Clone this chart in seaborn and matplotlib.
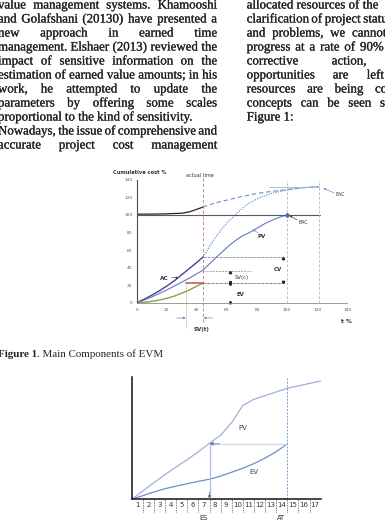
import matplotlib
matplotlib.use("Agg")
import matplotlib.pyplot as plt
import matplotlib.patheffects as pe
import seaborn as sns

# ---------------- data: figure 1 (top chart) ----------------
t_ac = [0, 5, 10, 15, 20, 25, 30, 35, 40, 44]
ac = [0, 4, 8.5, 13.5, 19, 25, 32, 39, 46, 52]
t_pv = [0, 5, 10, 15, 20, 25, 30, 35, 40, 44, 50, 55, 60, 65, 70, 75, 80, 85, 90, 95, 100]
pv = [0, 3, 6.5, 10.5, 14.5, 19, 23.5, 28, 33, 37, 47, 55, 63, 70, 76, 80, 85, 90, 94, 97.5, 100]
t_ev = [0, 5, 10, 15, 20, 25, 30, 35, 40, 44]
ev = [0, 0.5, 1.5, 3, 5, 7.5, 11, 14.5, 19, 22]
t_ac_proj = [44, 48, 52, 56, 60, 66, 74, 82, 90, 100, 110, 121]
ac_proj = [52, 63, 73.5, 83, 91, 101, 113, 120, 125, 128.5, 131, 132.5]
t_eac_base = [0, 10, 20, 30, 35, 40, 44]
eac_base = [101, 101, 101.3, 102, 103.5, 106.5, 109]
t_eac_proj = [44, 50, 55, 60, 70, 80, 90, 100, 110, 121]
eac_proj = [109, 112.5, 115, 117, 121, 124.5, 127, 129, 131, 132.5]
bac_level = 100
eac_level = 131.5
actual_time = 44
es_time_top = 33
ev_now, pv_now, ac_now = 22, 36.5, 52
top_ticks = [0, 20, 40, 60, 80, 100, 120, 140]

# ---------------- data: second chart (bottom) ----------------
periods = [str(i) for i in range(1, 18)]
t_b_pv = list(range(0, 18))
b_pv = [0, 0.068, 0.136, 0.203, 0.265, 0.326, 0.39, 0.46, 0.525, 0.63, 0.77,
        0.82, 0.85, 0.88, 0.91, 0.93, 0.95, 0.97]
t_b_ev = list(range(0, 15))
b_ev = [0, 0.03, 0.06, 0.087, 0.108, 0.128, 0.147, 0.165, 0.19, 0.222, 0.255,
        0.293, 0.338, 0.39, 0.455]
es_t, at_t = 7, 14

# ---------------- page text ----------------
left_lines = [
    ("value management systems. Khamooshi", True),
    ("and Golafshani (20130) have presented a", True),
    ("new approach in earned time", True),
    ("management. Elshaer (2013) reviewed the", True),
    ("impact of sensitive information on the", True),
    ("estimation of earned value amounts; in his", True),
    ("work, he attempted to update the", True),
    ("parameters by offering some scales", True),
    ("proportional to the kind of sensitivity.", False),
    ("Nowadays, the issue of comprehensive and", True),
    ("accurate project cost management", True),
]
# words of the right column with the left edge of the first and last visible word
right_lines = [
    ("allocated resources of the", 246.7, 362.7),
    ("clarification of project status", 246.7, 363.3),
    ("and problems, we cannot", 246.7, 352.0),
    ("progress at a rate of 90%", 246.7, 360.0),
    ("corrective action,", 246.7, 331.7),
    ("opportunities are left", 246.7, 366.7),
    ("resources are being consumed", 246.7, 375.0),
    ("concepts can be seen schematically", 246.7, 380.0),
    ("Figure 1:", 246.7, None),
]

W, H = 385, 524
sns.set_style("white")
plt.rcParams["font.family"] = ["DejaVu Sans"]

fig = plt.figure(figsize=(W / 100, H / 100), dpi=100)
fig.patch.set_facecolor("white")


def fx(x):
    return x / W


def fy(y):
    return 1 - y / H


TXT = "#262223"
BODY_FONT = ["Liberation Serif", "DejaVu Serif"]
BODY_SIZE = 9.3
INK = [pe.Stroke(linewidth=0.18, foreground=TXT), pe.Normal()]
renderer = fig.canvas.get_renderer()


def measure(s, size, weight="normal"):
    t = fig.text(0, 0, s, fontsize=size, family=BODY_FONT, weight=weight)
    w = t.get_window_extent(renderer).width
    t.remove()
    return w


def place_words(words, yb, x0, x_last=None, x_right=None, size=BODY_SIZE):
    min_gap = 0.13 * size * 100 / 72
    widths = [measure(w, size) for w in words]
    n = len(words)
    if n > 1 and x_right is not None:
        need = sum(widths) + min_gap * (n - 1)
        if need > x_right - x0:
            size = size * (x_right - x0) / need
            widths = [measure(w, size) for w in words]
    elif n > 1 and x_last is not None:
        need = sum(widths[:-1]) + min_gap * (n - 1)
        if need > x_last - x0:
            size = size * (x_last - x0) / need
            widths = [measure(w, size) for w in words]
    space_w = measure("a a", size) - measure("aa", size)
    if n > 1 and x_right is not None:
        gap = (x_right - x0 - sum(widths)) / (n - 1)
    elif n > 1 and x_last is not None:
        gap = (x_last - x0 - sum(widths[:-1])) / (n - 1)
    else:
        gap = space_w
    x = x0
    for w, wd in zip(words, widths):
        fig.text(fx(x), fy(yb), w, fontsize=size, family=BODY_FONT, color=TXT,
                 va="baseline", ha="left", path_effects=INK)
        x += wd + gap


base0, pitch = 8.5, 14.0
for i, (line, just) in enumerate(left_lines):
    place_words(line.split(), base0 + i * pitch, -2.0, x_right=217.0 if just else None)

for i, (line, x0, xl) in enumerate(right_lines):
    place_words(line.split(), base0 + i * pitch, x0, x_last=xl)

# caption
cap10 = measure("Figure 1", 10, "bold") + measure(". Main Components of EVM", 10)
cap_size = 10 * 165.0 / cap10
cap_b = fig.text(fx(-2), fy(356.7), "Figure 1", fontsize=cap_size, family=BODY_FONT,
                 weight="bold", color=TXT, va="baseline")
wb = cap_b.get_window_extent(renderer).width
fig.text(fx(-2 + wb), fy(356.7), ". Main Components of EVM", fontsize=cap_size,
         family=BODY_FONT, color=TXT, va="baseline")

# ================= top chart =================
ax1 = fig.add_axes([fx(136.7), fy(302.7), (347.3 - 136.7) / W, (302.7 - 179.9) / H])
ax1.patch.set_alpha(0)
BLUE = "#5b7bc4"
sns.lineplot(x=t_ac, y=ac, ax=ax1, color="#4e3d8c", lw=1.0)
sns.lineplot(x=t_pv, y=pv, ax=ax1, color=BLUE, lw=0.8)
sns.lineplot(x=t_ev, y=ev, ax=ax1, color="#8fa23c", lw=1.0)
sns.lineplot(x=t_ac_proj, y=ac_proj, ax=ax1, color=BLUE, lw=0.8, linestyle=(0, (1, 1.2)))
sns.lineplot(x=t_eac_base, y=eac_base, ax=ax1, color="#262626", lw=0.9)
sns.lineplot(x=t_eac_proj, y=eac_proj, ax=ax1, color="#6d8fcc", lw=0.8, linestyle=(0, (4, 2.5)))

ax1.plot([0, 122], [bac_level, bac_level], color="#595959", lw=0.8)
ax1.plot([88, t_eac_proj[-1]], [eac_level, eac_level], color="#9db2d9", lw=0.6)
ax1.plot([100, 100], [0, 140], color="#aaaaaa", lw=0.5, ls=(0, (4, 2.5)))
ax1.plot([121, 121], [0, 140], color="#aaaaaa", lw=0.5, ls=(0, (4, 2.5)))
ax1.plot([actual_time, actual_time], [-22, 142], color="#c77572", lw=0.6,
         ls=(0, (4, 2.5)), clip_on=False)
ax1.plot([es_time_top, es_time_top], [-29, ev_now], color="#9a9a9a", lw=0.5,
         ls=(0, (1.5, 1.2)), clip_on=False)
ax1.plot([es_time_top, actual_time], [ev_now, ev_now], color="#c0504d", lw=1.1)
ax1.plot([actual_time, 97.5], [ac_now, ac_now], color="#666666", lw=0.5, ls=(0, (3, 1, 1, 1)))
ax1.plot([actual_time, 76], [pv_now, pv_now], color="#8c8c8c", lw=0.5, ls=(0, (3, 1.5)))
ax1.plot([actual_time, 98.5], [ev_now, ev_now], color="#444444", lw=0.5, ls=(0, (3, 1, 1, 1)))
ax1.plot([100], [100], marker="D", ms=2.0, color="#4a6bb8")

mk = dict(ms=1.7, color="#222222", ls="none", clip_on=False)
ax1.plot([97], [ac_now - 1.3], marker="^", **mk)
ax1.plot([97], [ev_now + 1.3], marker="v", **mk)
ax1.plot([62], [pv_now - 1.8], marker="^", **mk)
ax1.plot([62], [ev_now + 1.5], marker="x", **mk)
ax1.plot([62], [ev_now - 1.2], marker="v", **mk)
ax1.plot([62], [1.2], marker="^", **mk)

ax1.set_xlim(0, 140)
ax1.set_ylim(0, 140)
ax1.set_xticks(top_ticks)
ax1.set_yticks(top_ticks)
ax1.tick_params(labelsize=3.2, colors="#595959", length=1.5, width=0.4, pad=1.5)
ax1.tick_params(axis="x", direction="inout", length=2.5, pad=2.5)
for s in ["top", "right"]:
    ax1.spines[s].set_visible(False)
ax1.spines["left"].set_color("#4d4d4d")
ax1.spines["left"].set_linewidth(0.8)
ax1.spines["bottom"].set_color("#8c8c8c")
ax1.spines["bottom"].set_linewidth(0.6)

lab = dict(color="#333333", ha="center", va="center", clip_on=False)
ax1.text(-15.7, 149, "Cumulative cost %", fontsize=3.7, weight="bold", ha="left",
         va="center", color="#333333", clip_on=False)
ax1.text(41.8, 145, "actual time", fontsize=3.5, **lab)
ax1.text(139.5, -22, "t %", fontsize=4.2, weight="bold", **lab)
ax1.text(18.2, 28, "AC", fontsize=4.2, weight="bold", **lab)
ax1.text(83.3, 75, "PV", fontsize=4.0, weight="bold", **lab)
ax1.text(110.5, 91, "BAC", fontsize=3.3, **lab)
ax1.text(135.5, 122.8, "EAC", fontsize=3.3, **lab)
ax1.text(94, 38, "CV", fontsize=4.0, weight="bold", **lab)
ax1.text(70, 28.2, "SV(c)", fontsize=3.8, **lab)
ax1.text(69, 9.6, "EV", fontsize=3.9, weight="bold", **lab)
ax1.text(43.1, -30, "SV(t)", fontsize=4.0, weight="bold", **lab)

arr = dict(arrowstyle="-|>", lw=0.45, mutation_scale=3, shrinkA=0, shrinkB=0)
ax1.annotate("", xy=(27.7, 28.5), xytext=(23.3, 28.5), arrowprops=dict(color="#404040", **arr))
ax1.annotate("", xy=(77.1, 83.5), xytext=(80.9, 79.5), arrowprops=dict(color="#6d8fcc", **arr))
ax1.annotate("", xy=(101.6, 99.4), xytext=(106.6, 94.3), arrowprops=dict(color="#404040", **arr))
ax1.annotate("", xy=(124.1, 130.4), xytext=(131.4, 125.1), arrowprops=dict(color="#6d8fcc", **arr),
             annotation_clip=False)
ax1.annotate("", xy=(es_time_top - 0.5, -17.4), xytext=(26.6, -17.4),
             arrowprops=dict(color=BLUE, **arr), annotation_clip=False)
ax1.annotate("", xy=(actual_time + 0.5, -17.4), xytext=(50.5, -17.4),
             arrowprops=dict(color=BLUE, **arr), annotation_clip=False)

# ================= bottom chart =================
ax2 = fig.add_axes([fx(131.7), fy(499.3), (320.7 - 131.7) / W, (499.3 - 377.3) / H])
ax2.patch.set_alpha(0)
sns.lineplot(x=t_b_pv, y=b_pv, ax=ax2, color="#9fb0d6", lw=0.9)
sns.lineplot(x=t_b_ev, y=b_ev, ax=ax2, color="#6f8ec8", lw=0.9)
ax2.plot([at_t, es_t], [b_ev[-1], b_ev[-1]], color="#d3d8e3", lw=0.9)
ax2.annotate("", xy=(es_t, b_ev[-1]), xytext=(es_t + 0.9, b_ev[-1]),
             arrowprops=dict(arrowstyle="-|>", color="#5f7fc2", lw=0.6, mutation_scale=5,
                             shrinkA=0, shrinkB=0))
ax2.plot([es_t, es_t], [b_ev[-1], 0.03], color="#a9b8da", lw=0.8)
ax2.annotate("", xy=(es_t, 0.0), xytext=(es_t, 0.06),
             arrowprops=dict(arrowstyle="-|>", color="#5f7fc2", lw=0.6, mutation_scale=5,
                             shrinkA=0, shrinkB=0))
ax2.plot([at_t, at_t], [0, 1.0], color="#7c9bd3", lw=0.7, ls=(0, (2, 1.5)), clip_on=False)
ax2.vlines(range(1, 17), -0.105, 0, transform=ax2.get_xaxis_transform(),
           colors="#555555", linestyles=(0, (1, 1)), lw=0.6, clip_on=False)

ax2.set_xlim(0, 17)
ax2.set_ylim(0, 1)
ax2.set_yticks([])
ax2.set_xticks([i + 0.5 for i in range(17)])
ax2.set_xticklabels(periods)
ax2.tick_params(axis="x", length=0, labelsize=5.0, colors="#333333", pad=2.2)
for s in ["top", "right"]:
    ax2.spines[s].set_visible(False)
for s in ["left", "bottom"]:
    ax2.spines[s].set_color("#111111")
    ax2.spines[s].set_linewidth(1.1)

tr = ax2.get_xaxis_transform()
ax2.text(6.44, -0.15, "ES", transform=tr, fontsize=4.8, color="#333333", ha="center", va="center")
ax2.text(13.43, -0.15, "AT", transform=tr, fontsize=4.8, color="#333333", ha="center", va="center")
ax2.text(9.98, 0.581, "PV", fontsize=5.0, color="#444444", ha="center", va="center")
ax2.text(11.0, 0.226, "EV", fontsize=5.0, color="#444444", ha="center", va="center")

fig.savefig("out.png", dpi=100)
